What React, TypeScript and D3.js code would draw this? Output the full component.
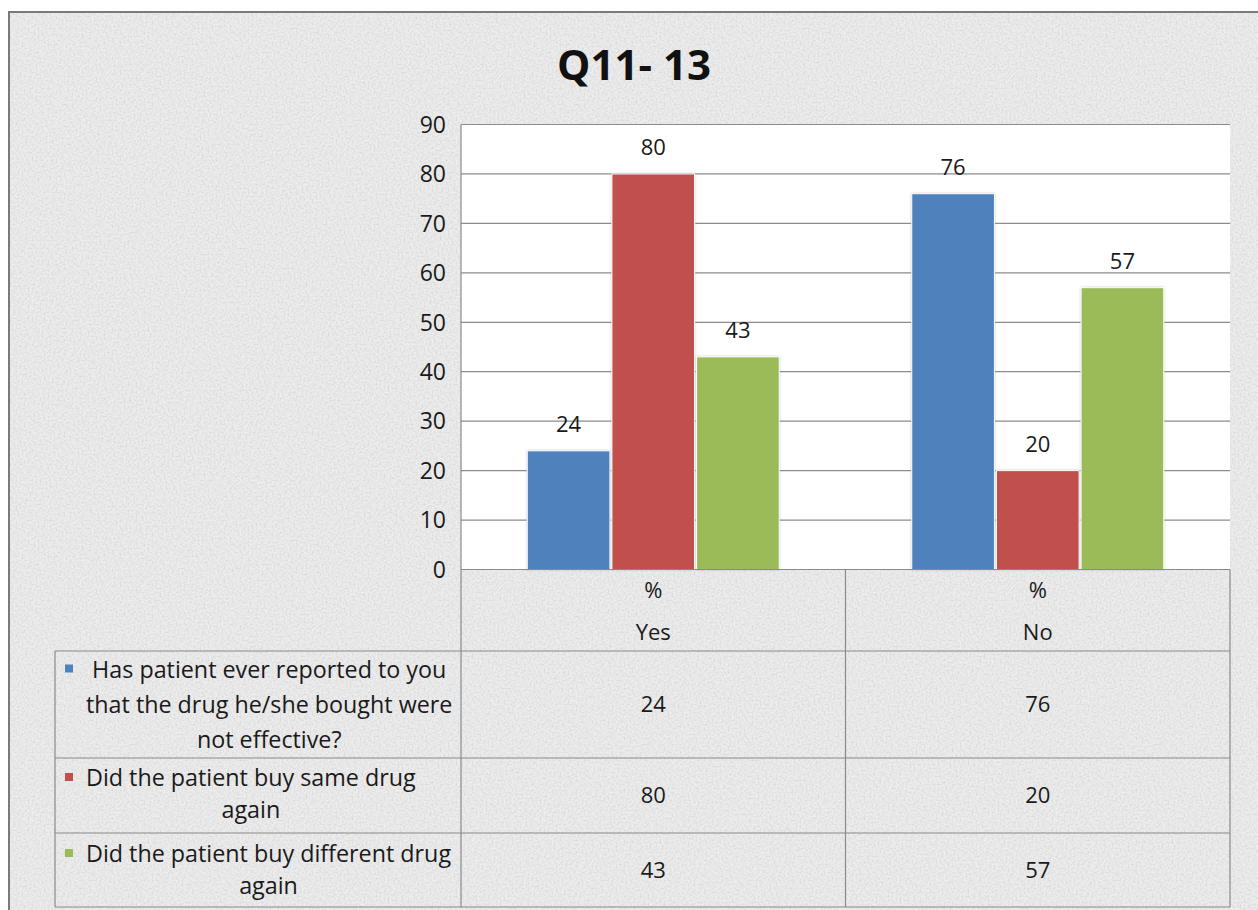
import React, { useLayoutEffect, useRef, useState } from "react";
import * as d3 from "d3";

const categories = ["Yes", "No"];
const headerPrefix = "%";
const seriesNames = [
  "Has patient ever reported to you that the drug he/she bought were not effective?",
  "Did the patient buy same drug again",
  "Did the patient buy different drug again",
];
const seriesLabelLines = [
  ["Has patient ever reported to you", "that the drug he/she bought were", "not effective?"],
  ["Did the patient buy same drug", "again"],
  ["Did the patient buy different drug", "again"],
];
const reportedNotEffective = [24, 76];
const boughtSameAgain = [80, 20];
const boughtDifferentAgain = [43, 57];
const seriesValues = [reportedNotEffective, boughtSameAgain, boughtDifferentAgain];
const seriesColors = ["#4F81BD", "#C0504D", "#9BBB59"];
const yTicks = [0, 10, 20, 30, 40, 50, 60, 70, 80, 90];
const title = "Q11- 13";

const W = 1258;
const H = 910;
const FONT = "'Open Sans', Lato, sans-serif";
const TXT = "#1a1a1a";

export default function App() {
  const plotL = 461, plotR = 1230, plotT = 124.5, plotB = 569.5;
  const tableL = 55;
  const headerB = 651;
  const rowBounds = [651, 758, 833, 907];
  const textStart = 86;

  const x0 = d3.scaleBand<string>().domain(categories).range([plotL, plotR]).paddingInner(0).paddingOuter(0);
  const y = d3.scaleLinear().domain([0, 90]).range([plotB, plotT]);
  const x1 = d3.scaleBand<number>().domain([0, 1, 2]).range([0, 254]).padding(0);

  const gridColor = "#8c8c8c";

  const rowRefs = useRef<(SVGGElement | null)[]>([]);
  const [blockW, setBlockW] = useState<number[]>([361, 327, 365]);
  useLayoutEffect(() => {
    const ws = rowRefs.current.map((g) => {
      if (!g) return 0;
      const ts = Array.from(g.querySelectorAll("text")) as SVGTextElement[];
      return d3.max(ts, (t) => t.getComputedTextLength()) || 0;
    });
    if (ws.some((w, i) => Math.abs(w - blockW[i]) > 0.5)) setBlockW(ws);
  }, []);

  return (
    <svg width={W} height={H} style={{ position: "absolute", left: 0, top: 0, display: "block" }} fontFamily={FONT}>
      <defs>
        <filter id="noise" x="0" y="0" width="100%" height="100%">
          <feTurbulence type="fractalNoise" baseFrequency="0.5" numOctaves="3" seed="4" result="n" />
          <feColorMatrix type="matrix" values="0 0 0 0 0.5  0 0 0 0 0.5  0 0 0 0 0.5  1.4 0 0 0 -0.5" />
        </filter>
        <filter id="barShadow" x="-10%" y="-10%" width="120%" height="120%">
          <feDropShadow dx="0" dy="0" stdDeviation="1.2" floodColor="#9aa6b8" floodOpacity="0.6" />
        </filter>
      </defs>
      <rect x={0} y={0} width={W} height={H} fill="#ffffff" />
      <rect x={9} y={12} width={W} height={H} fill="#ededed" />
      <rect x={9} y={12} width={W} height={H} filter="url(#noise)" opacity={0.6} />
      <rect x={9} y={12} width={W + 5} height={H + 5} fill="none" stroke="#7a7a7a" strokeWidth={2} />

      <text x={634} y={80} textAnchor="middle" fontSize={42} fontWeight="bold" fill="#111">
        {title}
      </text>

      {/* plot area */}
      <rect x={plotL} y={plotT} width={plotR - plotL} height={plotB - plotT} fill="#ffffff" />
      {yTicks.map((t) => (
        <g key={t}>
          <line x1={plotL} x2={plotR} y1={y(t)} y2={y(t)} stroke={gridColor} strokeWidth={1.2} />
          <text x={446} y={y(t)} dy="0.36em" textAnchor="end" fontSize={23} fill={TXT}>
            {t}
          </text>
        </g>
      ))}
      <line x1={plotL} x2={plotL} y1={plotT} y2={plotB} stroke={gridColor} strokeWidth={1.2} />

      {categories.map((c, ci) => {
        const gx = (x0(c) as number) + x0.bandwidth() / 2 - 127;
        return (
          <g key={c}>
            {seriesValues.map((vals, si) => {
              const bx = gx + (x1(si) as number);
              const v = vals[ci];
              return (
                <g key={si}>
                  <rect
                    x={bx + 1}
                    y={y(v)}
                    width={x1.bandwidth() - 2}
                    height={plotB - y(v)}
                    fill={seriesColors[si]}
                    stroke="#ffffff"
                    strokeWidth={1}
                    filter="url(#barShadow)"
                  />
                  <text x={bx + x1.bandwidth() / 2} y={y(v) - 27} dy="0.36em" textAnchor="middle" fontSize={22} fill={TXT}>
                    {v}
                  </text>
                </g>
              );
            })}
          </g>
        );
      })}

      {/* data table */}
      <g stroke="#8a8a8a" strokeWidth={1.2} fill="none">
        <line x1={plotL} x2={plotR} y1={plotB} y2={plotB} />
        {rowBounds.map((ry, i) => (
          <line key={i} x1={tableL} x2={plotR} y1={ry} y2={ry} />
        ))}
        <line x1={tableL} x2={tableL} y1={headerB} y2={rowBounds[3]} />
        <line x1={plotL} x2={plotL} y1={plotB} y2={rowBounds[3]} />
        <line x1={x0("No") as number} x2={x0("No") as number} y1={plotB} y2={rowBounds[3]} />
        <line x1={plotR} x2={plotR} y1={plotB} y2={rowBounds[3]} />
      </g>

      {categories.map((c) => {
        const cx = (x0(c) as number) + x0.bandwidth() / 2;
        return (
          <g key={c}>
            <text x={cx} y={590} dy="0.36em" textAnchor="middle" fontSize={22} fill={TXT}>
              {headerPrefix}
            </text>
            <text x={cx} y={632} dy="0.36em" textAnchor="middle" fontSize={22} fill={TXT}>
              {c}
            </text>
          </g>
        );
      })}

      {seriesValues.map((vals, si) => {
        const top = rowBounds[si];
        const bot = rowBounds[si + 1];
        const lines = seriesLabelLines[si];
        const lh = si === 0 ? 35 : 32;
        const midY = (top + bot) / 2 - (si === 1 ? 1.5 : 0);
        const startY = midY - ((lines.length - 1) * lh) / 2;
        const cx = textStart + blockW[si] / 2;
        return (
          <g key={si}>
            <g ref={(el) => { rowRefs.current[si] = el; }}>
              {lines.map((ln, li) => (
                <text key={li} x={cx} y={startY + li * lh} dy="0.36em" textAnchor="middle" fontSize={23.3} fill={TXT}>
                  {ln}
                </text>
              ))}
            </g>
            <rect x={65} y={startY - 5} width={8} height={8} fill={seriesColors[si]} />
            {categories.map((c, ci) => (
              <text
                key={c}
                x={(x0(c) as number) + x0.bandwidth() / 2}
                y={(top + bot) / 2}
                dy="0.36em"
                textAnchor="middle"
                fontSize={22}
                fill={TXT}
              >
                {vals[ci]}
              </text>
            ))}
          </g>
        );
      })}
    </svg>
  );
}
